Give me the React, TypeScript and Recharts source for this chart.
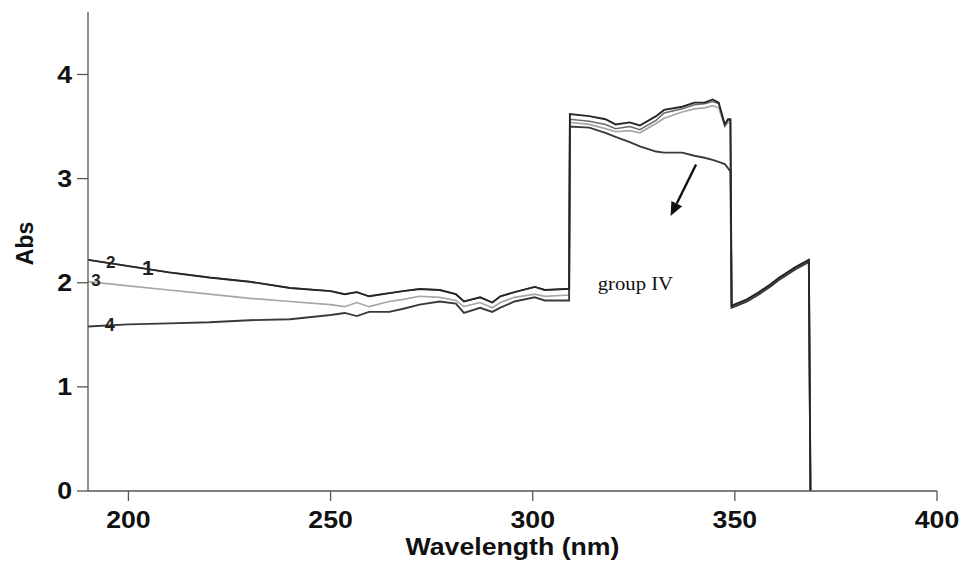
import { LineChart, Line, XAxis, YAxis, ReferenceDot, ReferenceLine } from 'recharts';

// wavelength grid (nm) shared by the four spectra
const WAVELENGTHS = [
  190, 200, 210, 220, 230, 240, 250, 253.5, 256.5, 259.5, 264.5, 268, 272, 277, 281, 283, 287, 290, 292, 295.5, 300.5, 303, 308, 309,
  309.2, 314, 318, 320.5, 324, 326.5, 330.5, 332.5, 337, 340, 342.5, 344.5, 346, 347.5, 348.3, 348.9,
  349.2, 350.5, 353, 356, 359, 361, 365, 368.3, 368.7,
];

const SPECTRUM_1 = [
  2.22, 2.16, 2.1, 2.05, 2.01, 1.95, 1.92, 1.89, 1.91, 1.87, 1.9, 1.92, 1.94, 1.93, 1.89, 1.82, 1.86, 1.81, 1.87, 1.91, 1.96, 1.93, 1.94, 1.94,
  3.62, 3.6, 3.57, 3.52, 3.54, 3.51, 3.6, 3.66, 3.69, 3.73, 3.73, 3.76, 3.73, 3.52, 3.57, 3.57,
  1.78, 1.8, 1.84, 1.91, 1.99, 2.05, 2.15, 2.22, 0,
];
const SPECTRUM_2 = [
  2.22, 2.16, 2.1, 2.05, 2.01, 1.95, 1.92, 1.89, 1.91, 1.87, 1.9, 1.92, 1.94, 1.93, 1.89, 1.82, 1.86, 1.81, 1.87, 1.91, 1.96, 1.93, 1.94, 1.94,
  3.57, 3.55, 3.52, 3.48, 3.5, 3.47, 3.56, 3.63, 3.67, 3.71, 3.72, 3.74, 3.72, 3.51, 3.56, 3.56,
  1.78, 1.8, 1.84, 1.91, 1.99, 2.05, 2.15, 2.22, 0,
];
const SPECTRUM_3 = [
  2.01, 1.97, 1.93, 1.89, 1.85, 1.82, 1.79, 1.77, 1.81, 1.77, 1.82, 1.84, 1.87, 1.86, 1.83, 1.77, 1.81, 1.76, 1.81, 1.86, 1.89, 1.87, 1.88, 1.88,
  3.54, 3.52, 3.48, 3.45, 3.46, 3.44, 3.53, 3.58, 3.64, 3.67, 3.68, 3.7, 3.68, 3.5, 3.54, 3.54,
  1.76, 1.78, 1.82, 1.89, 1.97, 2.03, 2.13, 2.2, 0,
];
const SPECTRUM_4 = [
  1.58, 1.6, 1.61, 1.62, 1.64, 1.65, 1.69, 1.71, 1.68, 1.72, 1.72, 1.75, 1.79, 1.82, 1.8, 1.71, 1.76, 1.72, 1.76, 1.82, 1.86, 1.83, 1.83, 1.83,
  3.5, 3.49, 3.44, 3.4, 3.35, 3.31, 3.26, 3.25, 3.25, 3.22, 3.2, 3.18, 3.16, 3.14, 3.1, 3.07,
  1.76, 1.78, 1.82, 1.89, 1.97, 2.03, 2.13, 2.2, 0,
];

const X_TICKS = [200, 250, 300, 350, 400];
const Y_TICKS = [0, 1, 2, 3, 4];

// curve number labels placed in data coordinates
const CURVE_LABELS = [
  { text: '2', x: 195.6, y: 2.2, size: 17 },
  { text: '1', x: 204.8, y: 2.15, size: 21 },
  { text: '3', x: 192, y: 2.03, size: 17 },
  { text: '4', x: 195.4, y: 1.6, size: 18 },
];

const data = WAVELENGTHS.map((wl, i) => ({
  wl,
  s1: SPECTRUM_1[i],
  s2: SPECTRUM_2[i],
  s3: SPECTRUM_3[i],
  s4: SPECTRUM_4[i],
}));

const SANS = 'Liberation Sans, Arial, sans-serif';
const AXIS = '#555';

function XTick({ x, y, payload }: any) {
  return (
    <g transform={`translate(${x},${y})`}>
      <text transform="scale(1.16,1)" textAnchor="middle" dy="0.71em" fontFamily={SANS} fontWeight="bold" fontSize={23} fill="#111">
        {payload.value}
      </text>
    </g>
  );
}

function YTick({ x, y, payload }: any) {
  return (
    <g transform={`translate(${x},${y})`}>
      <text transform="scale(1.16,1)" textAnchor="end" dy="0.36em" fontFamily={SANS} fontWeight="bold" fontSize={23} fill="#111">
        {payload.value}
      </text>
    </g>
  );
}

function Arrow({ x1, y1, x2, y2 }: any) {
  const ang = Math.atan2(y2 - y1, x2 - x1);
  const len = 14;
  const half = 6;
  const bx = x2 - len * Math.cos(ang);
  const by = y2 - len * Math.sin(ang);
  const px = -Math.sin(ang) * half;
  const py = Math.cos(ang) * half;
  return (
    <g>
      <line x1={x1} y1={y1} x2={bx} y2={by} stroke="#111" strokeWidth={2.4} />
      <polygon points={`${x2},${y2} ${bx + px},${by + py} ${bx - px},${by - py}`} fill="#111" />
    </g>
  );
}

export default function App() {
  return (
    <div style={{ position: 'absolute', left: 0, top: 0, background: '#fff' }}>
      <LineChart width={961} height={561} data={data} margin={{ top: 12, right: 24, left: 0, bottom: 0 }}>
        <XAxis
          dataKey="wl"
          type="number"
          domain={[190, 400]}
          ticks={X_TICKS}
          allowDataOverflow
          height={70}
          tickSize={10}
          tickMargin={11}
          tick={<XTick />}
          stroke={AXIS}
          strokeWidth={1.3}
          label={({ viewBox }: any) => (
            <text
              x={viewBox.x + viewBox.width / 2}
              y={viewBox.y + 64}
              transform={`translate(${viewBox.x + viewBox.width / 2},0) scale(1.16,1) translate(${-(viewBox.x + viewBox.width / 2)},0)`}
              textAnchor="middle"
              fontFamily={SANS}
              fontWeight="bold"
              fontSize={23}
              fill="#111"
            >
              Wavelength (nm)
            </text>
          )}
        />
        <YAxis
          type="number"
          domain={[0, 4.6]}
          ticks={Y_TICKS}
          allowDataOverflow
          width={88}
          tickSize={11}
          tickMargin={5}
          tick={<YTick />}
          stroke={AXIS}
          strokeWidth={1.3}
          label={({ viewBox }: any) => {
            const cx = viewBox.x + 33;
            const cy = viewBox.y + viewBox.height / 2 - 8;
            return (
              <text x={cx} y={cy} transform={`rotate(-90, ${cx}, ${cy})`} textAnchor="middle" fontFamily={SANS} fontWeight="bold" fontSize={23} fill="#111">
                Abs
              </text>
            );
          }}
        />
        <Line dataKey="s3" type="linear" stroke="#a6a6a6" strokeWidth={1.7} dot={false} isAnimationActive={false} />
        <Line dataKey="s4" type="linear" stroke="#3a3a3a" strokeWidth={1.9} dot={false} isAnimationActive={false} />
        <Line dataKey="s2" type="linear" stroke="#6a6a6a" strokeWidth={1.5} dot={false} isAnimationActive={false} />
        <Line dataKey="s1" type="linear" stroke="#262626" strokeWidth={1.9} dot={false} isAnimationActive={false} />
        {CURVE_LABELS.map((l) => (
          <ReferenceDot
            key={l.text}
            x={l.x}
            y={l.y}
            r={0}
            shape={(p: any) => (
              <text x={p.cx} y={p.cy} dy="0.36em" textAnchor="middle" fontFamily={SANS} fontWeight="bold" fontSize={l.size} fill="#222">
                {l.text}
              </text>
            )}
          />
        ))}
        <ReferenceDot
          x={325.4}
          y={1.926}
          r={0}
          shape={(p: any) => (
            <text
              x={p.cx}
              y={p.cy}
              transform={`translate(${p.cx},0) scale(1.15,1) translate(${-p.cx},0)`}
              textAnchor="middle"
              fontFamily="Liberation Serif, Times New Roman, serif"
              fontSize={18}
              fill="#111"
            >
              group IV
            </text>
          )}
        />
        <ReferenceLine
          segment={[
            { x: 340.4, y: 3.135 },
            { x: 334.1, y: 2.64 },
          ]}
          shape={(p: any) => <Arrow {...p} />}
        />
      </LineChart>
    </div>
  );
}
